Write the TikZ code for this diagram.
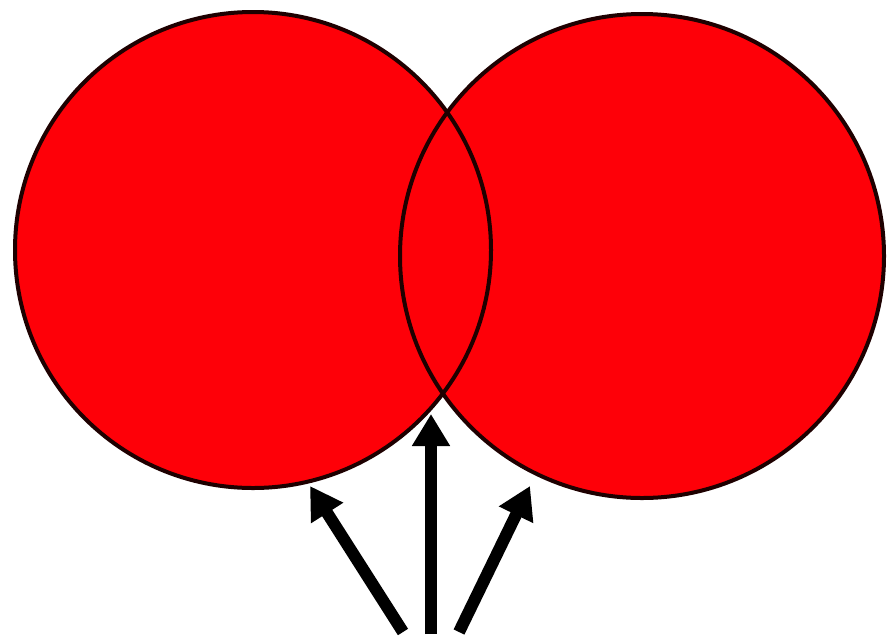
\documentclass[tikz,border=0pt]{standalone}
\usetikzlibrary{arrows.meta}
\definecolor{vred}{RGB}{254,0,8}
\definecolor{rimc}{RGB}{30,0,0}
\tikzset{
  disc/.style={circle, inner sep=0pt, outer sep=0pt, fill=vred},
  rim/.style={circle, inner sep=0pt, outer sep=0pt, draw=rimc, line width=4pt},
  pointer/.style={line width=12pt, -{Triangle[width=36pt,length=32pt]}, black}
}
\begin{document}
\begin{tikzpicture}[x=1pt,y=-1pt]
\useasboundingbox[fill=white] (0,0) rectangle (889,641);
% filled discs
\node[disc, minimum size=476pt] (Lf) at (253,250) {};
\node[disc, minimum size=484pt] (Rf) at (642,256) {};
% outlines on top
\node[rim, minimum size=476pt] (L) at (253,250) {};
\node[rim, minimum size=484pt] (R) at (642,256) {};
% arrow endpoints
\coordinate (t1) at (403,632);
\coordinate (h1) at (310,486);
\coordinate (t2) at (431,634);
\coordinate (h2) at (431,414);
\coordinate (t3) at (459,632);
\coordinate (h3) at (530,486);
\draw[pointer] (t1) -- (h1);
\draw[pointer] (t2) -- (h2);
\draw[pointer] (t3) -- (h3);
\end{tikzpicture}
\end{document}
